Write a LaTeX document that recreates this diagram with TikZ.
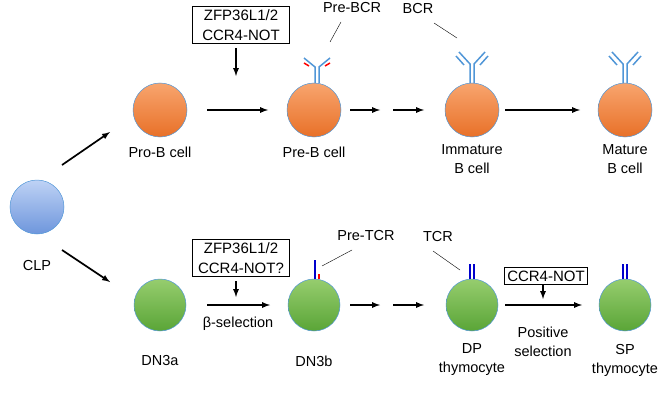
\documentclass[tikz,border=0pt]{standalone}
\usepackage{fontspec}
\setmainfont{Liberation Sans}
\definecolor{oT}{RGB}{248,165,110}
\definecolor{oB}{RGB}{232,112,40}
\definecolor{gT}{RGB}{150,205,110}
\definecolor{gB}{RGB}{90,165,55}
\definecolor{bT}{RGB}{190,210,245}
\definecolor{bB}{RGB}{110,150,220}
\definecolor{rc}{RGB}{80,150,215}
\begin{document}
\begin{tikzpicture}[x=1pt,y=-1pt,
 cellO/.style={circle,minimum size=54pt,draw=rc,line width=0.5pt,top color=oT,bottom color=oB},
 cellG/.style={circle,minimum size=52pt,draw=rc,line width=0.5pt,top color=gT,bottom color=gB},
 cellB/.style={circle,minimum size=54pt,draw=rc,line width=0.5pt,top color=bT,bottom color=bB},
 arr/.style={-latex,line width=1.7pt},
 lbl/.style={font=\fontsize{14.5}{19}\selectfont,align=center},
 box/.style={draw,line width=0.9pt,font=\fontsize{15}{20}\selectfont,align=center,inner sep=3pt,minimum width=97pt},
 rec/.style={draw=rc,line width=1.5pt},
 tcr/.style={draw=blue!80!black,line width=1.5pt},
 ptr/.style={line width=0.4pt}]
\useasboundingbox (0,0) rectangle (669,404);
\node[cellB] (clp) at (37,207) {};
\node[lbl] (clpl) at (37,266) {CLP};
\node[cellO] (prob) at (160,110) {};
\node[cellO] (preb) at (314,110) {};
\node[cellO] (imm) at (472,110) {};
\node[cellO] (mat) at (625,110) {};
\node[lbl] at (160,152) {Pro-B cell};
\node[lbl] at (314,152) {Pre-B cell};
\node[lbl] at (472,159) {Immature\\B cell};
\node[lbl] at (625,159) {Mature\\B cell};
\node[cellG] (dn3a) at (160,305) {};
\node[cellG] (dn3b) at (314,305) {};
\node[cellG] (dp) at (472,305) {};
\node[cellG] (sp) at (625,305) {};
\node[lbl] at (160,361) {DN3a};
\node[lbl] at (314,361) {DN3b};
\node[lbl] at (472,360) {DP\\thymocyte};
\node[lbl] at (625,360) {SP\\thymocyte};
% arrows
\coordinate (a1) at (62,165); \coordinate (a2) at (110,132);
\draw[arr] (a1) -- (a2);
\coordinate (b1) at (62,250); \coordinate (b2) at (110,282);
\draw[arr] (b1) -- (b2);
\coordinate (t1) at (207,110); \coordinate (t2) at (268,110);
\draw[arr] (t1) -- (t2);
\coordinate (t3) at (350,110); \coordinate (t4) at (380,110);
\coordinate (t5) at (393,110); \coordinate (t6) at (424,110);
\draw[arr] (t3) -- (t4); \draw[arr] (t5) -- (t6);
\coordinate (t7) at (505,110); \coordinate (t8) at (580,110);
\draw[arr] (t7) -- (t8);
\coordinate (u1) at (207,305); \coordinate (u2) at (270,305);
\draw[arr] (u1) -- (u2);
\coordinate (u3) at (350,305); \coordinate (u4) at (380,305);
\coordinate (u5) at (393,305); \coordinate (u6) at (424,305);
\draw[arr] (u3) -- (u4); \draw[arr] (u5) -- (u6);
\coordinate (u7) at (505,305); \coordinate (u8) at (582,305);
\draw[arr] (u7) -- (u8);
% boxes
\node[box] (bx1) at (241,25) {ZFP36L1/2\\CCR4-NOT};
\coordinate (bx1e) at (236,76);
\draw[arr] (236,48) -- (bx1e);
\node[box] (bx2) at (241,258) {ZFP36L1/2\\CCR4-NOT?};
\coordinate (bx2e) at (236,297);
\draw[arr] (236,281) -- (bx2e);
\node[box,minimum width=78pt] (bx3) at (546,276) {CCR4-NOT};
\coordinate (bx3e) at (543,299);
\draw[arr] (bx3.south -| bx3e) -- (bx3e);
\node[lbl] at (238,324) {β-selection};
\node[lbl] at (543,342) {Positive\\selection};
% Pre-BCR
\draw[rec] (315,83) -- (315,67) -- (304,58);
\draw[rec] (319,83) -- (319,67) -- (330,58);
\draw[draw=red,line width=1.5pt] (304,63) -- (309,66);
\draw[draw=red,line width=1.5pt] (330,63) -- (325,66);
\node[lbl] (prebcr) at (352,8) {Pre-BCR};
\coordinate (pbc) at (330,42);
\draw[ptr] (341,22) -- (pbc);
% BCR
\foreach \cx in {472,625}{
 \draw[rec] (\cx-2,83) -- (\cx-2,64) -- (\cx-13,52);
 \draw[rec] (\cx+2,83) -- (\cx+2,64) -- (\cx+13,52);
 \draw[rec] (\cx-8,65) -- (\cx-16,56);
 \draw[rec] (\cx+8,65) -- (\cx+16,56);
}
\node[lbl] (bcr) at (418,9) {BCR};
\coordinate (bcc) at (457,38);
\draw[ptr] (434,23) -- (bcc);
% Pre-TCR
\draw[tcr] (315,279) -- (315,260);
\draw[draw=red,line width=1.5pt] (319,279) -- (319,274);
\node[lbl] (pretcr) at (366,236) {Pre-TCR};
\coordinate (ptc) at (322,266);
\draw[ptr] (352,250) -- (ptc);
\foreach \cx in {472,625}{
 \draw[tcr] (\cx-2,279) -- (\cx-2,264);
 \draw[tcr] (\cx+2,279) -- (\cx+2,264);
}
\node[lbl] (tcrl) at (438,237) {TCR};
\coordinate (tcc) at (460,270);
\draw[ptr] (433,251) -- (tcc);
\end{tikzpicture}
\end{document}
